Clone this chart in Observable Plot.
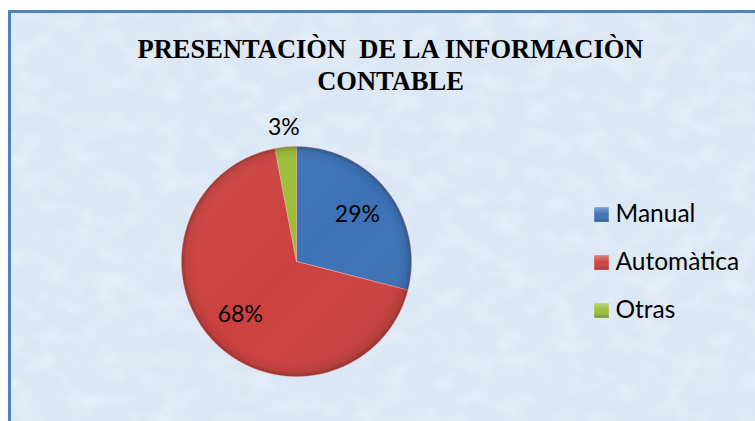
<!DOCTYPE html>
<html><head><meta charset="utf-8">
<script src="https://cdn.jsdelivr.net/npm/d3@7"></script>
<script src="https://cdn.jsdelivr.net/npm/@observablehq/plot@0.6"></script>
<style>
html,body{margin:0;padding:0;background:#fff;width:755px;height:421px;overflow:hidden;}
#frame{position:absolute;left:8px;top:10px;width:760px;height:420px;background:#dbe7f5;border-left:3px solid #4f81bd;border-top:3px solid #4f81bd;overflow:hidden;}
#frame svg{position:absolute;left:0;top:0;}
#chart{position:absolute;left:0;top:0;}
#chart svg text{white-space:pre;}
</style></head><body>
<div id="frame"><svg width="760" height="420"><defs><filter id="tex" x="0" y="0" width="100%" height="100%"><feTurbulence type="fractalNoise" baseFrequency="0.035 0.05" numOctaves="3" seed="7" result="n"/><feColorMatrix type="matrix" values="0 0 0 0 1  0 0 0 0 1  0 0 0 0 1  1.2 0 0 0 -0.5"/></filter></defs><rect width="760" height="420" filter="url(#tex)" opacity="0.55"/></svg></div>
<div id="chart"></div>
<script>
const categories = ["Manual", "Automàtica", "Otras"];
const values = [29, 68, 3];
const percentLabels = ["29%", "68%", "3%"];
const colors = ["#3c72b8", "#cb413e", "#9cbd38"];
const titleLines = ["PRESENTACIÒN  DE LA INFORMACIÒN", "CONTABLE"];

const W = 755, H = 421;
const cx = 296, cy = 261, R = 115;

const rows = categories.map((c, i) => ({category: c, value: values[i], label: percentLabels[i]}));
const arcs = d3.pie().sort(null).value(d => d.value)(rows);

// slice outlines (polar -> pixel coordinates from the data angles)
const slicePts = [];
arcs.forEach(a => {
  const n = Math.max(4, Math.ceil((a.endAngle - a.startAngle) / 0.01));
  slicePts.push({category: a.data.category, x: cx, y: cy});
  for (let k = 0; k <= n; k++) {
    const t = a.startAngle + (a.endAngle - a.startAngle) * k / n;
    slicePts.push({category: a.data.category, x: cx + R * Math.sin(t), y: cy - R * Math.cos(t)});
  }
  slicePts.push({category: a.data.category, x: cx, y: cy});
});

const labelPts = arcs.map(a => {
  const m = (a.startAngle + a.endAngle) / 2;
  const r = a.data.value < 5 ? R + 19 : R * 0.67;
  return {label: a.data.label, x: cx + r * Math.sin(m), y: cy - r * Math.cos(m)};
});

const legendY = [214, 262, 310];
const legend = rows.map((d, i) => ({category: d.category, y: legendY[i]}));
const titles = titleLines.map((t, i) => ({t, y: [49, 81][i]}));

const plot = Plot.plot({
  width: W, height: H,
  margin: 0,
  x: {domain: [0, W], range: [0, W], axis: null},
  y: {domain: [0, H], range: [0, H], axis: null},
  color: {domain: categories, range: colors},
  style: {background: "transparent", overflow: "visible"},
  marks: [
    Plot.line(slicePts, {x: "x", y: "y", z: "category", fill: "category", stroke: "#f0a8a0", strokeOpacity: 0.55, strokeWidth: 1, strokeLinejoin: "round", curve: "linear"}),
    Plot.dot([{x: cx, y: cy}], {x: "x", y: "y", r: R, fill: "url(#pieLight)", stroke: "none"}),
    Plot.dot([{x: cx, y: cy}], {x: "x", y: "y", r: R, fill: "url(#pieShade)", stroke: "none"}),
    Plot.text(labelPts, {x: "x", y: "y", text: "label", fontFamily: "Lato", fontSize: 23, fill: "#000"}),
    Plot.dot(legend, {x: () => 601, y: "y", symbol: "square", r: 8.2, fill: "category", stroke: "none"}),
    Plot.dot(legend, {x: () => 601, y: "y", symbol: "square", r: 8.2, fill: "url(#legShade)", stroke: "none"}),
    Plot.text(legend, {x: () => 615, y: "y", text: "category", textAnchor: "start", fontFamily: "Lato", fontSize: 24.5, fill: "#000"}),
    Plot.text(titles, {x: () => 390, y: "y", text: "t", fontFamily: "Liberation Serif", fontWeight: "bold", fontSize: 26.5, fill: "#000"})
  ]
});

const defs = d3.select(plot).insert("defs", ":first-child");
const g = defs.append("radialGradient").attr("id", "pieShade").attr("cx", "50%").attr("cy", "50%").attr("r", "50%");
g.append("stop").attr("offset", "0%").attr("stop-color", "#000").attr("stop-opacity", 0);
g.append("stop").attr("offset", "88%").attr("stop-color", "#000").attr("stop-opacity", 0.0);
g.append("stop").attr("offset", "96%").attr("stop-color", "#000").attr("stop-opacity", 0.07);
g.append("stop").attr("offset", "100%").attr("stop-color", "#000").attr("stop-opacity", 0.25);
const gl = defs.append("linearGradient").attr("id", "pieLight").attr("x1", 0).attr("y1", 0).attr("x2", 1).attr("y2", 1);
gl.append("stop").attr("offset", "0%").attr("stop-color", "#fff").attr("stop-opacity", 0.07);
gl.append("stop").attr("offset", "50%").attr("stop-color", "#fff").attr("stop-opacity", 0);
gl.append("stop").attr("offset", "100%").attr("stop-color", "#000").attr("stop-opacity", 0.1);
const lg = defs.append("linearGradient").attr("id", "legShade").attr("x1", 0).attr("y1", 0).attr("x2", 0).attr("y2", 1);
lg.append("stop").attr("offset", "0%").attr("stop-color", "#fff").attr("stop-opacity", 0.35);
lg.append("stop").attr("offset", "50%").attr("stop-color", "#fff").attr("stop-opacity", 0);
lg.append("stop").attr("offset", "100%").attr("stop-color", "#000").attr("stop-opacity", 0.25);

document.getElementById("chart").appendChild(plot);
</script>
</body></html>
